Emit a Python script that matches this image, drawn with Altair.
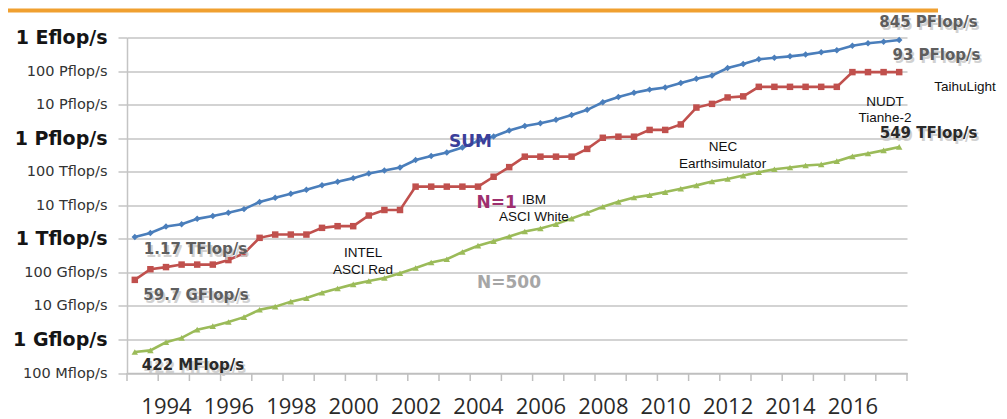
import altair as alt
import pandas as pd

# ---------------- data (GFlop/s), one value per TOP500 list, Jun 1993 .. Nov 2017
list_index = list(range(50))
sum_gf = [1130, 1490, 2320, 2730, 3930, 4780, 5940, 7670, 12500, 16700,
          21900, 28900, 39500, 50500, 64300, 88100, 108700, 134300, 222300, 293000,
          375000, 528200, 813100, 1127000, 1690000, 2300000, 2790000, 3540000, 4920000, 6970000,
          11700000, 16950000, 22600000, 27950000, 32400000, 43700000, 58900000, 74200000, 123000000, 162000000,
          223000000, 250000000, 274000000, 309000000, 363000000, 420000000, 567000000, 672000000, 749000000, 845000000]
n1_gf = [59.7, 124, 143.4, 170.4, 170.4, 170.4, 232.4, 368.2, 1068, 1338,
         1338, 1338, 2121, 2379, 2379, 4938, 7226, 7226, 35860, 35860,
         35860, 35860, 35860, 70720, 136800, 280600, 280600, 280600, 280600, 478200,
         1026000, 1105000, 1105000, 1759000, 1759000, 2566000, 8162000, 10510000, 16320000, 17590000,
         33860000, 33860000, 33860000, 33860000, 33860000, 33860000, 93010000, 93010000, 93010000, 93010000]
n500_gf = [0.422, 0.472, 0.822, 1.114, 1.96, 2.49, 3.31, 4.62, 7.67, 9.51,
           13.4, 17.1, 24.7, 33.1, 43.8, 55.1, 67.8, 94.3, 134.3, 195.8,
           245.1, 403.4, 624, 850.6, 1166, 1646, 2026, 2737, 4005, 5929,
           9000, 12640, 17090, 20050, 24670, 31120, 39090, 50940, 60820, 76500,
           96620, 117800, 133700, 153400, 164700, 206300, 286100, 349300, 432200, 548700]

series_names = ["SUM", "N=1", "N=500"]
series_colors = ["#4A7EBB", "#C0504D", "#9BBB59"]
series_shapes = ["diamond", "square", "triangle-up"]

year_labels = ["1994", "1996", "1998", "2000", "2002", "2004", "2006", "2008",
               "2010", "2012", "2014", "2016"]
year_label_pos = [2.5, 6.5, 10.5, 14.5, 18.5, 22.5, 26.5, 30.5, 34.5, 38.5, 42.5, 46.5]
x_tick_pos = list(range(0, 51, 2))
y_tick_values = [0.1, 1, 10, 100, 1e3, 1e4, 1e5, 1e6, 1e7, 1e8, 1e9]
y_tick_labels = ["100 Mflop/s", "1 Gflop/s", "10 Gflop/s", "100 Gflop/s", "1 Tflop/s",
                 "10 Tflop/s", "100 Tflop/s", "1 Pflop/s", "10 Pflop/s", "100 Pflop/s", "1 Eflop/s"]

# annotations (anchor in list-index / GFlop/s units)
value_texts = ["845 PFlop/s", "93 PFlop/s", "1.17 TFlop/s", "59.7 GFlop/s"]
value_x = [51.38, 51.89, 4.39, 4.42]
value_y = [2.81e9, 2.92e8, 498, 20.5]
dark_texts = ["549 TFlop/s", "422 MFlop/s"]
dark_x = [51.38, 4.23]
dark_y = [1.38e6, 0.168]
machine_texts = ["TaihuLight", "NUDT", "Tianhe-2", "NEC", "Earthsimulator",
                 "IBM", "ASCI White", "INTEL", "ASCI Red"]
machine_x = [53.72, 48.59, 48.59, 38.21, 38.18, 26.09, 26.09, 15.13, 15.13]
machine_y = [3.24e7, 1.16e7, 3.87e6, 5.28e5, 1.70e5, 1.39e4, 4.33e3, 366, 114]
name_texts = ["SUM", "N=1", "N=500"]
name_x = [22.02, 23.69, 24.49]
name_y = [7.44e5, 1.13e4, 46.7]
name_colors = ["#3B3F9A", "#9E2F6E", "#A6A6A6"]

# ---------------- tables
rows = []
for name, vals in zip(series_names, [sum_gf, n1_gf, n500_gf]):
    for i, v in zip(list_index, vals):
        rows.append({"series": name, "idx": i + 0.5, "value": v})
df = pd.DataFrame(rows)

xscale = alt.Scale(domain=[0, 50], nice=False, zero=False)
yscale = alt.Scale(type="log", domain=[0.1, 1e9], nice=False)

year_arr = "[" + ",".join("'" + y + "'" for y in year_labels) + "]"
ylab_arr = "[" + ",".join("'" + y + "'" for y in y_tick_labels) + "]"
big_test = "round(log(datum.value)/LN10) % 3 == 0"
x_label_expr = year_arr + "[round((datum.value-2.5)/4)]"
y_label_expr = ylab_arr + "[round(log(datum.value)/LN10)+1]"

xaxis = alt.Axis(
    values=year_label_pos, title=None, grid=False, ticks=False,
    labelExpr=x_label_expr,
    labelPadding=23, labelFont="Open Sans", labelFontSize=22, labelColor="#2a2a2a",
    labelOverlap=False, labelFlush=False,
    domainColor="#bfbfbf", domainWidth=1.5,
)
yaxis = alt.Axis(
    values=y_tick_values, title=None, grid=True, gridColor="#c4c4c4", gridWidth=1.5,
    labelExpr=y_label_expr,
    labelFont="DejaVu Sans",
    labelFontSize={"condition": {"test": big_test, "value": 19}, "value": 14.5},
    labelFontWeight={"condition": {"test": big_test, "value": "bold"}, "value": "normal"},
    labelColor={"condition": {"test": big_test, "value": "#151515"}, "value": "#333333"},
    labelPadding=11, labelOverlap=False, labelFlush=False,
    tickSize=9, tickColor="#c4c4c4", tickWidth=1.5, domainColor="#c4c4c4", domainWidth=1.5,
)

base = alt.Chart(df)
lines = base.mark_line(strokeWidth=2.6).encode(
    x=alt.X("idx:Q", scale=xscale, axis=xaxis),
    y=alt.Y("value:Q", scale=yscale, axis=yaxis),
    color=alt.Color("series:N", scale=alt.Scale(domain=series_names, range=series_colors), legend=None),
    detail="series:N",
)
points = base.mark_point(filled=True, opacity=1, size=42).encode(
    x=alt.X("idx:Q", scale=xscale),
    y=alt.Y("value:Q", scale=yscale),
    color=alt.Color("series:N", scale=alt.Scale(domain=series_names, range=series_colors), legend=None),
    shape=alt.Shape("series:N", scale=alt.Scale(domain=series_names, range=series_shapes), legend=None),
)

# x-axis tick marks (one per year boundary), below the plot area
ticks = alt.Chart(pd.DataFrame({"p": x_tick_pos})).mark_rule(color="#bfbfbf", strokeWidth=1.5).encode(
    x=alt.X("p:Q", scale=xscale), y=alt.value(335.5), y2=alt.value(343.5))

val_df = pd.DataFrame({"t": value_texts, "x": value_x, "y": value_y})
dark_df = pd.DataFrame({"t": dark_texts, "x": dark_x, "y": dark_y})
mach_df = pd.DataFrame({"t": machine_texts, "x": machine_x, "y": machine_y})
name_df = pd.DataFrame({"t": name_texts, "x": name_x, "y": name_y, "c": name_colors})


def txt(data, **kw):
    return alt.Chart(data).mark_text(align="center", baseline="middle", **kw).encode(
        x=alt.X("x:Q", scale=xscale), y=alt.Y("y:Q", scale=yscale), text="t:N")


shadow_all = pd.concat([val_df, dark_df])
shadow = txt(shadow_all, font="DejaVu Sans", fontSize=15, fontWeight="bold",
             color="#c9c9c9", dx=2, dy=3, opacity=0.85)
vals = txt(val_df, font="DejaVu Sans", fontSize=15, fontWeight="bold", color="#5e5e5e")
darks = txt(dark_df, font="DejaVu Sans", fontSize=15, fontWeight="bold", color="#2a2a2a")
machines = txt(mach_df, font="Liberation Sans", fontSize=13.5, color="#111111")
names = alt.Chart(name_df).mark_text(align="center", baseline="middle", font="DejaVu Sans",
                                     fontSize=17, fontWeight="bold").encode(
    x=alt.X("x:Q", scale=xscale), y=alt.Y("y:Q", scale=yscale), text="t:N",
    color=alt.Color("c:N", scale=None, legend=None))

top_bar = alt.Chart(pd.DataFrame({"a": [0]})).mark_rule(color="#F0A030", strokeWidth=4).encode(
    x=alt.value(-119), x2=alt.value(811), y=alt.value(-27))

chart = alt.layer(top_bar, lines, points, ticks, shadow, vals, darks, machines, names).resolve_scale(
    color="independent"
).properties(
    width=780, height=335.5,
    background="white",
    autosize=alt.AutoSizeParams(type="none"),
    padding={"left": 119, "top": 29.5, "right": 92, "bottom": 50},
).configure_view(stroke=None)

chart.save("out.html", embed_options={"renderer": "svg", "actions": False})
